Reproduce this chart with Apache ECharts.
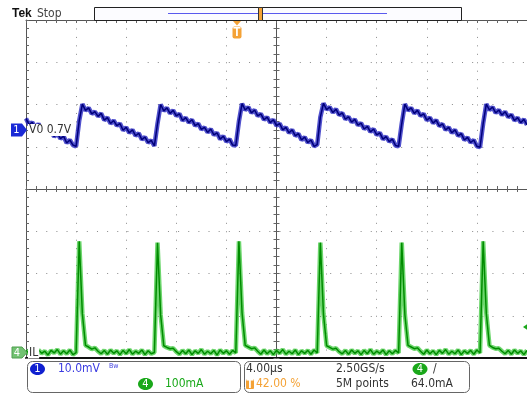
<!DOCTYPE html>
<html>
<head>
<meta charset="utf-8">
<script src="https://cdn.jsdelivr.net/npm/echarts@6/dist/echarts.min.js"></script>
<style>
html, body { margin: 0; padding: 0; background: #fff; }
#scope { width: 527px; height: 396px; }
</style>
</head>
<body>
<div id="scope"></div>
<script>
// horizontal: 4 us/div, 10 div, record sampled every 0.25 us
const tStart = -20
const tStep = 0.25
const xMin = -20, xMax = 20, xInterval = 4
// vertical: 8 div
const yMin = -4, yMax = 4, yInterval = 1

// CH1 (V0, 10.0mV/div) position in divisions
const ch1Div = [
  1.67, 1.52, 1.58, 1.44, 1.54, 1.41, 1.48, 1.32, 1.36, 1.24,
  1.32, 1.19, 1.25, 1.09, 1.16, 1.04, 1.01, 1.62, 2.01, 1.86,
  1.92, 1.78, 1.83, 1.72, 1.79, 1.63, 1.69, 1.55, 1.62, 1.50,
  1.55, 1.39, 1.46, 1.33, 1.40, 1.26, 1.32, 1.17, 1.23, 1.10,
  1.15, 1.02, 1.55, 2.00, 1.85, 1.92, 1.79, 1.86, 1.73, 1.78,
  1.62, 1.69, 1.57, 1.64, 1.50, 1.55, 1.41, 1.46, 1.34, 1.42,
  1.28, 1.33, 1.18, 1.25, 1.12, 1.18, 1.04, 1.03, 1.60, 2.02,
  1.87, 1.94, 1.80, 1.87, 1.73, 1.78, 1.64, 1.70, 1.57, 1.64,
  1.50, 1.55, 1.40, 1.46, 1.33, 1.40, 1.26, 1.31, 1.16, 1.23,
  1.10, 1.16, 1.01, 1.05, 1.70, 2.03, 1.88, 1.94, 1.81, 1.89,
  1.75, 1.80, 1.65, 1.71, 1.58, 1.65, 1.51, 1.56, 1.42, 1.48,
  1.35, 1.42, 1.28, 1.33, 1.18, 1.24, 1.12, 1.18, 1.03, 1.01,
  1.55, 2.01, 1.86, 1.92, 1.79, 1.86, 1.73, 1.78, 1.63, 1.69,
  1.56, 1.63, 1.49, 1.54, 1.40, 1.46, 1.33, 1.40, 1.26, 1.31,
  1.16, 1.22, 1.10, 1.16, 1.01, 0.99, 1.55, 2.01, 1.87, 1.94,
  1.80, 1.87, 1.75, 1.83, 1.70, 1.76, 1.62, 1.69, 1.57, 1.65,
  1.52
]

// CH4 (IL, 100mA/div) position in divisions
const ch4Div = [
  -3.82, -3.90, -3.83, -3.92, -3.81, -3.89, -3.84, -3.93, -3.82, -3.88,
  -3.80, -3.91, -3.83, -3.90, -3.81, -3.92, -3.87, -1.24, -2.95, -3.70,
  -3.74, -3.79, -3.76, -3.84, -3.90, -3.82, -3.91, -3.81, -3.89, -3.83,
  -3.92, -3.82, -3.90, -3.80, -3.91, -3.84, -3.89, -3.81, -3.92, -3.83,
  -3.90, -3.87, -1.27, -2.98, -3.71, -3.75, -3.78, -3.77, -3.85, -3.91,
  -3.82, -3.90, -3.81, -3.92, -3.83, -3.89, -3.80, -3.91, -3.84, -3.90,
  -3.82, -3.93, -3.81, -3.89, -3.83, -3.91, -3.82, -3.88, -1.24, -2.93,
  -3.70, -3.74, -3.78, -3.76, -3.84, -3.91, -3.81, -3.90, -3.83, -3.92,
  -3.82, -3.89, -3.80, -3.91, -3.84, -3.90, -3.81, -3.92, -3.83, -3.89,
  -3.82, -3.91, -3.81, -3.88, -1.27, -2.96, -3.71, -3.75, -3.79, -3.77,
  -3.85, -3.90, -3.82, -3.91, -3.81, -3.89, -3.83, -3.92, -3.82, -3.90,
  -3.80, -3.91, -3.84, -3.89, -3.81, -3.92, -3.83, -3.90, -3.82, -3.88,
  -1.27, -2.97, -3.70, -3.74, -3.78, -3.76, -3.84, -3.91, -3.81, -3.90,
  -3.83, -3.92, -3.82, -3.89, -3.80, -3.91, -3.84, -3.90, -3.81, -3.92,
  -3.83, -3.89, -3.82, -3.91, -3.81, -3.88, -1.24, -2.94, -3.70, -3.75,
  -3.78, -3.77, -3.84, -3.90, -3.82, -3.91, -3.81, -3.89, -3.83, -3.92,
  -3.82
]

// readout texts
const ch1Label = 'V0 0.7V'
const ch4Label = 'IL'
const ch1Scale = '10.0mV'
const ch4Scale = '100mA'
const timeScale = '4.00µs'
const sampleRate = '2.50GS/s'
const trigPos = '42.00 %'
const recordLen = '5M points'
const trigLevel = '64.0mA'

const FONT = '"Liberation Sans Narrow", "DejaVu Sans Condensed", sans-serif'
const BLUE = '#1a2ad6'
const GREEN = '#1aa81a'
const ORANGE = '#f4a236'

const ch1Data = ch1Div.map((v, i) => [tStart + i * tStep, v])
const ch4Data = ch4Div.map((v, i) => [tStart + i * tStep, v])

function txt(x, y, text, color, size, extra) {
  return {
    type: 'text', x: x, y: y, z: 100,
    style: Object.assign({
      text: text, fill: color, font: size + 'px ' + FONT,
      align: 'left', verticalAlign: 'middle'
    }, extra || {})
  }
}
function badge(cx, cy, color, label) {
  return [
    { type: 'ellipse', z: 100, shape: { cx: cx, cy: cy, rx: 7.5, ry: 6 }, style: { fill: color } },
    txt(cx, cy + 0.5, label, '#fff', 11, { align: 'center' })
  ]
}

const baseAxis = { type: 'value', axisLabel: { show: false }, splitLine: { show: false } }
const xBase = Object.assign({}, baseAxis, { min: xMin, max: xMax, interval: xInterval })
const yBase = Object.assign({}, baseAxis, { min: yMin, max: yMax, interval: yInterval })
const tick = { color: '#666', width: 1 }

const chart = echarts.init(document.getElementById('scope'))
chart.setOption({
  animation: false,
  backgroundColor: '#fff',
  grid: { left: 26, top: 20, width: 507, height: 338 },
  xAxis: [
    Object.assign({}, xBase, {
      position: 'bottom',
      axisLine: { onZero: false, lineStyle: { color: '#111', width: 2 } },
      axisTick: { show: false },
      splitLine: { show: true, lineStyle: { color: '#8a8a8a', type: [1, 7.45] } }
    }),
    Object.assign({}, xBase, {
      position: 'top',
      axisLine: { onZero: false, lineStyle: { color: '#555' } },
      axisTick: { show: true, inside: true, length: 3, lineStyle: tick },
      minorTick: { show: true, splitNumber: 5, length: 3, lineStyle: tick }
    }),
    Object.assign({}, xBase, {
      position: 'bottom',
      axisLine: { onZero: true, onZeroAxisIndex: 0, lineStyle: { color: '#555' } },
      axisTick: { show: true, inside: true, length: 3, lineStyle: tick },
      minorTick: { show: true, splitNumber: 5, length: 3, lineStyle: tick }
    }),
    Object.assign({}, xBase, {
      position: 'bottom',
      axisLine: { onZero: true, onZeroAxisIndex: 0, lineStyle: { color: '#555' } },
      axisTick: { show: true, inside: false, length: 3, lineStyle: tick },
      minorTick: { show: true, splitNumber: 5, length: 3, lineStyle: tick }
    })
  ],
  yAxis: [
    Object.assign({}, yBase, {
      position: 'left',
      axisLine: { onZero: false, lineStyle: { color: '#555' } },
      axisTick: { show: true, inside: true, length: 3, lineStyle: tick },
      minorTick: { show: true, splitNumber: 5, length: 3, lineStyle: tick },
      splitLine: { show: true, lineStyle: { color: '#8a8a8a', type: [1, 9.14] } }
    }),
    Object.assign({}, yBase, {
      position: 'left',
      axisLine: { onZero: true, onZeroAxisIndex: 0, lineStyle: { color: '#555' } },
      axisTick: { show: true, inside: true, length: 3, lineStyle: tick },
      minorTick: { show: true, splitNumber: 5, length: 3, lineStyle: tick }
    }),
    Object.assign({}, yBase, {
      position: 'left',
      axisLine: { onZero: true, onZeroAxisIndex: 0, lineStyle: { color: '#555' } },
      axisTick: { show: true, inside: false, length: 3, lineStyle: tick },
      minorTick: { show: true, splitNumber: 5, length: 3, lineStyle: tick }
    })
  ],
  series: [
    { name: 'V0 halo', type: 'line', data: ch1Data, showSymbol: false, silent: true, z: 2,
      lineStyle: { color: '#2626c0', width: 4.5, opacity: 0.8 } },
    { name: 'V0', type: 'line', data: ch1Data, showSymbol: false, silent: true, z: 3,
      lineStyle: { color: '#00007a', width: 1.5 } },
    { name: 'IL halo', type: 'line', data: ch4Data, showSymbol: false, silent: true, z: 2,
      lineStyle: { color: '#3cc83c', width: 4.5, opacity: 0.75 } },
    { name: 'IL', type: 'line', data: ch4Data, showSymbol: false, silent: true, z: 3,
      lineStyle: { color: '#008c00', width: 1.5 } }
  ],
  graphic: [
    // header
    txt(12, 13.5, 'Tek', '#111', 16, { fontWeight: 'bold' }),
    txt(37, 14, 'Stop', '#444', 12),
    { type: 'rect', z: 100, shape: { x: 94.5, y: 7.5, width: 367, height: 13 }, style: { fill: '#fcfcff', stroke: '#222', lineWidth: 1 } },
    { type: 'line', z: 101, shape: { x1: 168, y1: 13.5, x2: 387, y2: 13.5 }, style: { stroke: '#5a5aee', lineWidth: 1 } },
    { type: 'rect', z: 102, shape: { x: 258.5, y: 7.5, width: 4, height: 13 }, style: { fill: ORANGE, stroke: '#333', lineWidth: 1 } },
    // trigger position marker
    { type: 'polygon', z: 100, shape: { points: [[233, 21], [241, 21], [237, 25.5]] }, style: { fill: ORANGE } },
    { type: 'rect', z: 100, shape: { x: 232.5, y: 26.5, width: 9, height: 12, r: 2 }, style: { fill: ORANGE } },
    txt(237, 33, 'T', '#fff', 10, { align: 'center', fontWeight: 'bold' }),
    // channel ground markers
    { type: 'polygon', z: 100, shape: { points: [[11, 123.5], [22, 123.5], [27, 130], [22, 136.5], [11, 136.5]] }, style: { fill: BLUE } },
    txt(16.5, 130.5, '1', '#fff', 11, { align: 'center' }),
    txt(28, 130, ch1Label, '#333', 12, { backgroundColor: '#fff', padding: [0, 1] }),
    { type: 'polygon', z: 100, shape: { points: [[12, 347], [22, 347], [27, 352.5], [22, 358], [12, 358]] }, style: { fill: '#72c272', stroke: '#4f9f4f', lineWidth: 1 } },
    txt(17, 353, '4', '#fff', 11, { align: 'center' }),
    txt(28, 352.5, ch4Label, '#333', 12, { backgroundColor: '#fff', padding: [0, 1] }),
    // trigger level marker on the right edge
    { type: 'polygon', z: 100, shape: { points: [[523, 327], [528, 323.5], [528, 330.5]] }, style: { fill: GREEN } },
    // readout panels
    { type: 'rect', z: 99, shape: { x: 27.5, y: 361.5, width: 213, height: 31, r: 5 }, style: { fill: '#fff', stroke: '#666', lineWidth: 1 } },
    { type: 'rect', z: 99, shape: { x: 244.5, y: 361.5, width: 225, height: 31, r: 5 }, style: { fill: '#fff', stroke: '#666', lineWidth: 1 } },
    ...badge(37.5, 369, '#1020d0', '1'),
    txt(58, 369, ch1Scale, '#3a3ae0', 12),
    txt(109, 366, 'Bw', '#3a3ae0', 7),
    ...badge(145.5, 384, GREEN, '4'),
    txt(165, 384, ch4Scale, GREEN, 12),
    txt(246, 369, timeScale, '#333', 12),
    txt(336, 369, sampleRate, '#333', 12),
    ...badge(420, 369, GREEN, '4'),
    txt(433, 369, '/', '#333', 12),
    { type: 'rect', z: 100, shape: { x: 246, y: 379, width: 8, height: 10, r: 1 }, style: { fill: ORANGE } },
    txt(250, 384.5, 'T', '#fff', 8, { align: 'center', fontWeight: 'bold' }),
    txt(256, 384, trigPos, ORANGE, 12),
    txt(336, 384, recordLen, '#333', 12),
    txt(411, 384, trigLevel, '#333', 12)
  ]
})
</script>
</body>
</html>
